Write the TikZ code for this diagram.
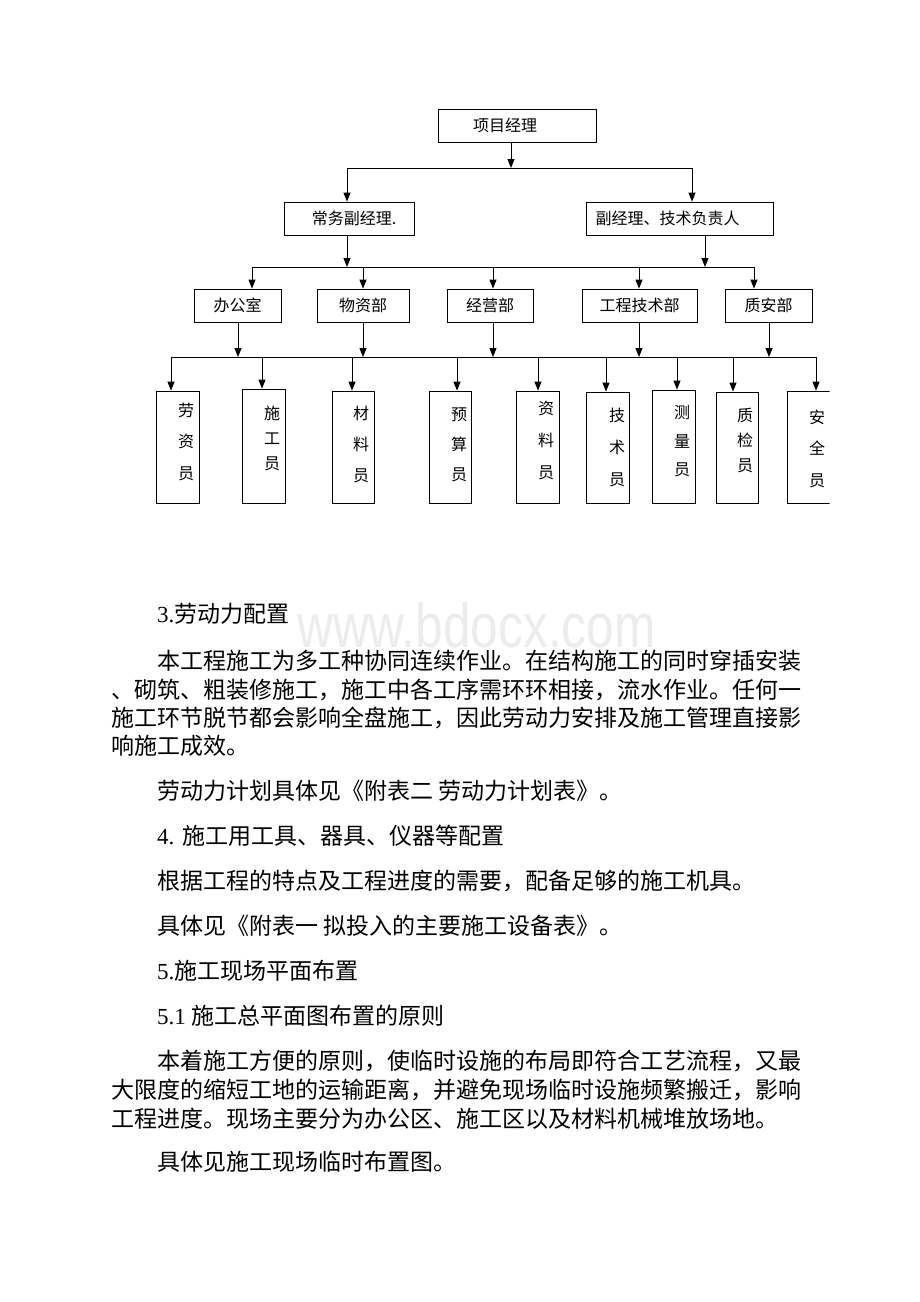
\documentclass[tikz,border=0pt]{standalone}
\usepackage{fontspec}
\usepackage{graphicx}
\setmainfont{Noto Sans CJK SC}
\newfontfamily\lat{Liberation Serif}
\newfontfamily\wmfont{Liberation Sans}
\usetikzlibrary{arrows.meta}

% text shifted in a box, and a column of three characters
\newcommand\padtext[2]{\hspace*{#1}#2}
\newcommand\colstack[7]{\hspace*{#1}\parbox{16pt}{\fontsize{16}{#4}\selectfont\centering\vspace*{#2}#5\\#6\\#7\par\vspace*{#3}}}

\begin{document}
\begin{tikzpicture}[x=1pt, y=-1pt,
    box/.style={draw, line width=0.8pt, inner sep=0pt, minimum height=33pt, font=\fontsize{16}{19}\selectfont},
    tall/.style={draw, line width=0.8pt, inner sep=0pt},
    arrow/.style={-{Triangle[length=9pt, width=7pt]}, line width=1pt},
    bus/.style={line width=1pt},
    txt/.style={anchor=west, inner sep=0pt, font=\fontsize{23}{28}\selectfont},
    wmstyle/.style={anchor=base west, inner sep=0pt, text=gray!15, font=\wmfont\fontsize{62}{62}\selectfont}
]
\fill[white] (0,0) rectangle (920,1302);

% watermark
\node[wmstyle] (wm) at (297,647) {\scalebox{0.8}[1]{www.bdocx.com}};

\begin{scope}
\clip (0,0) rectangle (829.5,1302);

% Nodes: top and second level
\node[box, minimum width=158pt] (pm) at (517,125.5) {\padtext{-24pt}{项目经理}};
\node[box, minimum width=130pt] (dep) at (349,218.5) {\padtext{10pt}{常务副经理.}};
\node[box, minimum width=187pt] (tech) at (679.5,218.5) {\padtext{-24pt}{副经理、技术负责人}};

% Nodes: departments
\node[box, minimum width=87pt] (ofc) at (237.5,305.5) {办公室};
\node[box, minimum width=92pt] (mat) at (363,305.5) {物资部};
\node[box, minimum width=86pt] (biz) at (490,305.5) {经营部};
\node[box, minimum width=115pt] (eng) at (639.5,305.5) {工程技术部};
\node[box, minimum width=87pt] (qs) at (768.5,305.5) {质安部};

% Nodes: posts
\node[tall, minimum width=43pt, minimum height=112pt] (lab) at (177.5,447) {\colstack{17pt}{0pt}{11pt}{31.5pt}{劳}{资}{员}};
\node[tall, minimum width=43pt, minimum height=114pt] (con) at (263.5,446) {\colstack{17pt}{0pt}{16pt}{25pt}{施}{工}{员}};
\node[tall, minimum width=42pt, minimum height=112pt] (mtl) at (353,447) {\colstack{16pt}{0pt}{6pt}{31pt}{材}{料}{员}};
\node[tall, minimum width=42pt, minimum height=112pt] (bud) at (450,447) {\colstack{18pt}{0pt}{4pt}{30pt}{预}{算}{员}};
\node[tall, minimum width=43pt, minimum height=112pt] (doc) at (537.5,447) {\colstack{17pt}{0pt}{14pt}{32pt}{资}{料}{员}};
\node[tall, minimum width=43pt, minimum height=111pt] (tec) at (607.5,447.5) {\colstack{19pt}{0pt}{0pt}{32pt}{技}{术}{员}};
\node[tall, minimum width=43pt, minimum height=113pt] (sur) at (673.5,446.5) {\colstack{17pt}{0pt}{10pt}{28.5pt}{测}{量}{员}};
\node[tall, minimum width=42pt, minimum height=111pt] (qc) at (737,447.5) {\colstack{16pt}{0pt}{15pt}{25pt}{质}{检}{员}};
\node[tall, minimum width=44pt, minimum height=112pt] (saf) at (809,447) {\colstack{16pt}{3pt}{0pt}{31.5pt}{安}{全}{员}};

% Connectors: first bus
\coordinate (t0) at (511,168);
\coordinate (tl) at (347,168);
\coordinate (tr) at (692,168);
\draw[arrow] (pm.south -| t0) -- (t0);
\draw[bus] (tl) -- (tr);
\draw[arrow] (tl) -- (dep.north -| tl);
\draw[arrow] (tr) -- (tech.north -| tr);

% Connectors: second bus
\coordinate (ml) at (347,267);
\coordinate (mr) at (705,267);
\draw[arrow] (dep.south -| ml) -- (ml);
\draw[arrow] (tech.south -| mr) -- (mr);
\foreach \x/\n in {252/ofc, 363/mat, 493/biz, 639/eng, 754/qs} {
  \coordinate (b\n) at (\x,267);
  \draw[arrow] (b\n) -- (\n.north -| b\n);
}
\draw[bus] (bofc) -- (bqs);

% Connectors: third bus
\foreach \x/\n in {238/ofc, 363/mat, 493/biz, 639/eng, 769/qs} {
  \coordinate (u\n) at (\x,357);
  \draw[arrow] (\n.south -| u\n) -- (u\n);
}
\foreach \x/\n in {171/lab, 262/con, 352/mtl, 457/bud, 538/doc, 606/tec, 677/sur, 733/qc, 816/saf} {
  \coordinate (d\n) at (\x,357);
  \draw[arrow] (d\n) -- (\n.north -| d\n);
}
\draw[bus] (dlab) -- (dsaf);
\end{scope}

% Body text
\node[txt] (h3) at (157,614) {{\lat 3.}劳动力配置};
\node[txt] (p1a) at (157,661) {本工程施工为多工种协同连续作业。在结构施工的同时穿插安装};
\node[txt] (p1b) at (111,690) {、砌筑、粗装修施工，施工中各工序需环环相接，流水作业。任何一};
\node[txt] (p1c) at (111,718) {施工环节脱节都会影响全盘施工，因此劳动力安排及施工管理直接影};
\node[txt] (p1d) at (111,746) {响施工成效。};
\node[txt] (p2) at (157,791) {劳动力计划具体见《附表二 劳动力计划表》。};
\node[txt] (h4) at (157,836) {{\lat 4. }施工用工具、器具、仪器等配置};
\node[txt] (p3) at (157,881) {根据工程的特点及工程进度的需要，配备足够的施工机具。};
\node[txt] (p4) at (157,926) {具体见《附表一 拟投入的主要施工设备表》。};
\node[txt] (h5) at (157,971) {{\lat 5.}施工现场平面布置};
\node[txt] (h51) at (157,1016) {{\lat 5.1 }施工总平面图布置的原则};
\node[txt] (p5a) at (157,1061) {本着施工方便的原则，使临时设施的布局即符合工艺流程，又最};
\node[txt] (p5b) at (111,1090) {大限度的缩短工地的运输距离，并避免现场临时设施频繁搬迁，影响};
\node[txt] (p5c) at (111,1119) {工程进度。现场主要分为办公区、施工区以及材料机械堆放场地。};
\node[txt] (p6) at (157,1162) {具体见施工现场临时布置图。};

\end{tikzpicture}
\end{document}
